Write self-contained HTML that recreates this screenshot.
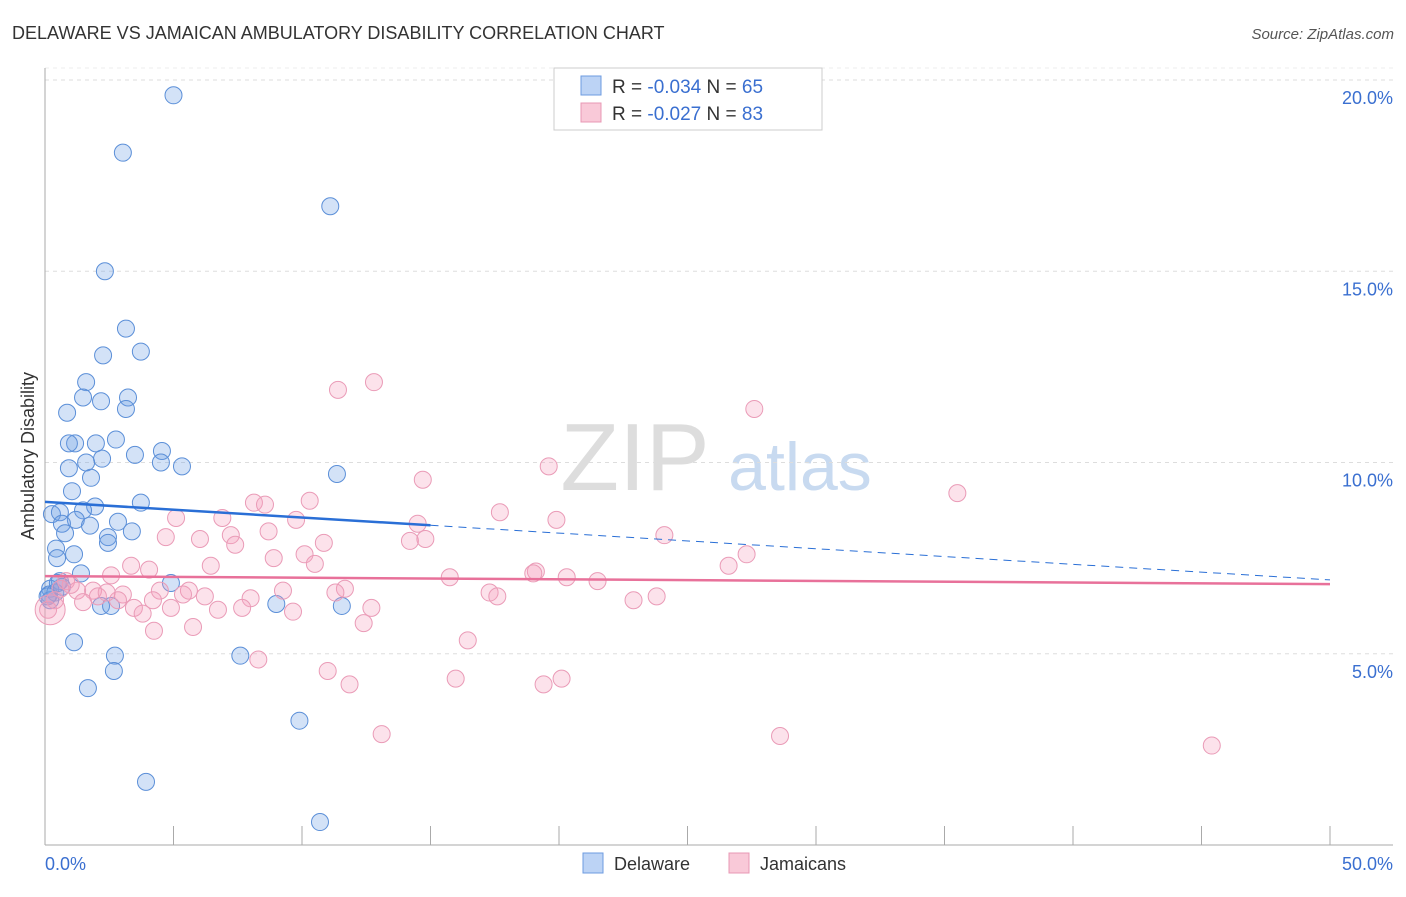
<!DOCTYPE html>
<html><head><meta charset="utf-8"><style>
body{margin:0;background:#fff;font-family:"Liberation Sans",sans-serif;}
svg text{font-family:"Liberation Sans",sans-serif;}
</style></head><body>
<svg id="chart" width="1406" height="892">
<text x="12" y="39" font-size="18" fill="#333">DELAWARE VS JAMAICAN AMBULATORY DISABILITY CORRELATION CHART</text>
<text x="1394" y="39" font-size="15" fill="#555" font-style="italic" text-anchor="end">Source: ZipAtlas.com</text>
<g><text x="635" y="490" font-size="96" fill="#ddd" font-family="Liberation Serif" text-anchor="middle">ZIP</text><text x="800" y="490" font-size="68" fill="#c8daf0" text-anchor="middle">atlas</text></g>
<g id="grid"></g><g id="axes"></g><g id="pts"></g><g id="lines"></g>
<text transform="translate(34,456) rotate(-90)" font-size="18" fill="#333" text-anchor="middle">Ambulatory Disability</text>
<text x="45" y="870" font-size="18" fill="#3a6fd0">0.0%</text>
<text x="1393" y="870" font-size="18" fill="#3a6fd0" text-anchor="end">50.0%</text>
<g>
<rect x="554" y="68" width="268" height="62" fill="#fff" stroke="#ccc"/>
<rect x="581" y="76" width="20" height="19" fill="#bcd3f5" stroke="#6d9be0"/>
<rect x="581" y="103" width="20" height="19" fill="#f9c9d8" stroke="#e898b4"/>
<text x="612" y="93" font-size="19" fill="#333">R = <tspan fill="#3a6fd0">-0.034</tspan>   N = <tspan fill="#3a6fd0">65</tspan></text>
<text x="612" y="120" font-size="19" fill="#333">R = <tspan fill="#3a6fd0">-0.027</tspan>   N = <tspan fill="#3a6fd0">83</tspan></text>
</g>
<g>
<rect x="583" y="853" width="20" height="20" fill="#bcd3f5" stroke="#6d9be0"/>
<text x="614" y="870" font-size="18" fill="#333">Delaware</text>
<rect x="729" y="853" width="20" height="20" fill="#f9c9d8" stroke="#e898b4"/>
<text x="760" y="870" font-size="18" fill="#333">Jamaicans</text>
</g>
</svg>
<script>
const yTicks=[5,10,15,20];
const yTickLabels=["5.0%","10.0%","15.0%","20.0%"];
const xTicks=[0,5,10,15,20,25,30,35,40,45,50];
const delX=[5.0,3.03,11.1,2.33,3.15,3.73,2.26,1.6,1.48,3.23,2.18,3.15,0.86,2.76,1.17,1.98,0.93,4.55,3.5,2.22,1.6,4.51,5.33,0.93,11.36,1.79,1.05,3.73,1.95,1.48,0.27,0.58,1.2,2.84,0.66,1.75,0.78,3.38,2.45,2.45,0.43,0.47,1.13,1.4,4.9,0.58,0.2,0.16,0.2,2.18,2.57,9.0,11.55,1.13,2.72,7.6,2.68,1.67,9.9,3.93,10.7,0.4,0.66,0.5,0.1];
const delY=[19.6,18.1,16.7,15.0,13.5,12.9,12.8,12.1,11.7,11.7,11.6,11.4,11.3,10.6,10.5,10.5,10.5,10.3,10.2,10.1,10.0,10.0,9.9,9.85,9.7,9.6,9.25,8.95,8.85,8.75,8.65,8.7,8.5,8.45,8.4,8.35,8.15,8.2,8.05,7.9,7.75,7.5,7.6,7.1,6.85,6.9,6.7,6.55,6.4,6.25,6.25,6.3,6.25,5.3,4.95,4.95,4.55,4.1,3.25,1.65,0.6,6.6,6.75,6.85,6.5];
const jamX=[12.8,11.4,27.6,19.6,14.7,10.3,35.5,8.13,8.56,17.7,5.1,6.9,9.77,19.9,14.5,8.7,7.23,4.7,6.03,14.2,14.8,24.1,10.85,7.4,10.1,8.9,27.3,10.5,6.45,3.35,4.05,26.6,19.1,19.0,2.57,15.75,20.3,21.5,0.82,1.87,4.47,5.6,9.26,11.67,11.3,17.3,1.25,3.03,5.37,2.06,6.22,8.0,17.6,23.8,4.2,2.84,22.9,1.48,0.39,3.46,4.9,7.67,12.7,6.73,9.65,3.8,0.12,12.4,5.76,4.24,16.45,8.3,11.0,15.98,20.1,19.4,11.85,13.1,28.6,45.4,1.0,0.6,2.4];
const jamY=[12.1,11.9,11.4,9.9,9.55,9.0,9.2,8.95,8.9,8.7,8.55,8.55,8.5,8.5,8.4,8.2,8.1,8.05,8.0,7.95,8.0,8.1,7.9,7.85,7.6,7.5,7.6,7.35,7.3,7.3,7.2,7.3,7.15,7.1,7.05,7.0,7.0,6.9,6.9,6.65,6.65,6.65,6.65,6.7,6.6,6.6,6.65,6.55,6.55,6.5,6.5,6.45,6.5,6.5,6.4,6.4,6.4,6.35,6.4,6.2,6.2,6.2,6.2,6.15,6.1,6.05,6.15,5.8,5.7,5.6,5.35,4.85,4.55,4.35,4.35,4.2,4.2,2.9,2.85,2.6,6.8,6.7,6.6];
const delTrend=[8.97,6.93];
const jamTrend=[7.03,6.82];
const NS="http://www.w3.org/2000/svg";
const X=v=>45+v/50*1285, Y=v=>845-v/20*765;
function mk(t,a,p){const e=document.createElementNS(NS,t);for(const k in a)e.setAttribute(k,a[k]);p.appendChild(e);return e;}
const grid=document.getElementById('grid'),axes=document.getElementById('axes'),pts=document.getElementById('pts'),lines=document.getElementById('lines');
yTicks.forEach((t,i)=>{
 const l=mk('line',{x1:45,x2:1393,y1:Y(t),y2:Y(t),stroke:'#ddd','stroke-dasharray':'4,4'},grid);
 
 
 const tx=mk('text',{x:1393,y:Y(t)+24,'font-size':18,fill:'#3a6fd0','text-anchor':'end'},grid);
 tx.textContent=yTickLabels[i];
 
 
});
mk('line',{x1:45,x2:1393,y1:Y(20)-12,y2:Y(20)-12,stroke:'#eee','stroke-dasharray':'4,4'},grid);
const ya=mk('line',{x1:45,x2:45,y1:68,y2:845,stroke:'#aaa'},axes);


const xa=mk('line',{x1:45,x2:1393,y1:845,y2:845,stroke:'#aaa'},axes);


xTicks.forEach(t=>{const l=mk('line',{x1:X(t),x2:X(t),y1:826,y2:845,stroke:'#aaa'},axes);
 
 });
delX.forEach((v,i)=>{const c=mk('circle',{cx:X(v),cy:Y(delY[i]),r:8.5,fill:'rgba(110,160,230,0.3)',stroke:'#5b8fd8','stroke-width':1},pts);
 
 });
jamX.forEach((v,i)=>{const c=mk('circle',{cx:X(v),cy:Y(jamY[i]),r:8.5,fill:'rgba(245,160,190,0.3)',stroke:'#ea9bb7','stroke-width':1},pts);
 
 });
const big=mk('circle',{cx:X(0.2),cy:Y(6.15),r:15,fill:'rgba(245,160,190,0.3)',stroke:'#ea9bb7'},pts);


const ym=v=>delTrend[0]+(delTrend[1]-delTrend[0])*v/50;
const t1=mk('line',{x1:X(0),y1:Y(ym(0)),x2:X(15),y2:Y(ym(15)),stroke:'#2a6fd6','stroke-width':2.5},lines);


const t2=mk('line',{x1:X(15),y1:Y(ym(15)),x2:X(50),y2:Y(ym(50)),stroke:'#2a6fd6','stroke-width':1,'stroke-dasharray':'8,6'},lines);


const t3=mk('line',{x1:X(0),y1:Y(jamTrend[0]),x2:X(50),y2:Y(jamTrend[1]),stroke:'#e8719a','stroke-width':2.5},lines);


</script>
</body></html>
